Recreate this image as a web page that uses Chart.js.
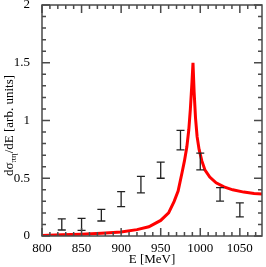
<!DOCTYPE html>
<html>
<head>
<meta charset="utf-8">
<script src="https://cdn.jsdelivr.net/npm/chart.js@4"></script>
<style>
  html, body { margin: 0; padding: 0; background: #fff; }
  #wrap { width: 266px; height: 267px; }
</style>
</head>
<body>
<div id="wrap"><canvas id="chart"></canvas></div>
<script>
const energies = [825, 850, 875, 900, 925, 950, 975, 1000, 1025, 1050];
const xsValues = [0.10, 0.10, 0.18, 0.32, 0.445, 0.57, 0.83, 0.645, 0.36, 0.226];
const xsErrors = [0.048, 0.052, 0.05, 0.065, 0.072, 0.07, 0.085, 0.072, 0.058, 0.06];

const curveE = [800, 825, 850, 875, 900, 920, 935, 950, 960, 967, 972, 977, 980, 983, 985.5, 987.5, 989.5, 990.8,
  992.2, 994, 996, 998.5, 1002, 1006, 1012, 1020, 1030, 1041, 1055, 1068, 1080];
const curveY = [0.005, 0.01, 0.016, 0.024, 0.034, 0.055, 0.08, 0.135, 0.2, 0.3, 0.39, 0.55, 0.65, 0.77, 0.92, 1.1, 1.33, 1.5,
  1.25, 1.02, 0.86, 0.75, 0.65, 0.57, 0.51, 0.46, 0.425, 0.4, 0.38, 0.368, 0.362];

const xMajor = [800, 850, 900, 950, 1000, 1050];
const yMajor = [0, 0.5, 1, 1.5, 2];

const SERIF = '"Liberation Serif", "DejaVu Serif", serif';
const FRAME = '#4a4a4a';

// frame with inward ticks on all four sides, plus error bars and the y title
const framePlugin = {
  id: 'frame',
  afterDatasetsDraw(chart) {
    const { ctx, chartArea: a, scales: { x, y } } = chart;
    ctx.save();

    // error bars
    ctx.strokeStyle = '#222';
    ctx.lineWidth = 1.3;
    energies.forEach((e, i) => {
      const px = x.getPixelForValue(e);
      const top = y.getPixelForValue(xsValues[i] + xsErrors[i]);
      const bot = y.getPixelForValue(xsValues[i] - xsErrors[i]);
      ctx.beginPath();
      ctx.moveTo(px, top); ctx.lineTo(px, bot);
      ctx.moveTo(px - 4, top); ctx.lineTo(px + 4, top);
      ctx.moveTo(px - 4, bot); ctx.lineTo(px + 4, bot);
      ctx.stroke();
    });

    ctx.strokeStyle = FRAME;
    ctx.lineWidth = 1.5;
    ctx.beginPath();
    for (let v = 800; v <= x.max; v += 10) {
      const px = x.getPixelForValue(v);
      const len = v % 50 === 0 ? 8 : 4;
      ctx.moveTo(px, a.bottom); ctx.lineTo(px, a.bottom - len);
      ctx.moveTo(px, a.top); ctx.lineTo(px, a.top + len);
    }
    for (let k = 0; k <= 20; k++) {
      const py = y.getPixelForValue(k / 10);
      const len = k % 5 === 0 ? 8 : 4;
      ctx.moveTo(a.left, py); ctx.lineTo(a.left + len, py);
      ctx.moveTo(a.right, py); ctx.lineTo(a.right - len, py);
    }
    ctx.stroke();
    ctx.strokeRect(a.left, a.top, a.right - a.left, a.bottom - a.top);

    // y title with subscript
    ctx.fillStyle = '#000';
    ctx.translate(13, (a.top + a.bottom) / 2 + 5);
    ctx.rotate(-Math.PI / 2);
    ctx.textBaseline = 'alphabetic';
    const parts = [['dσ', 13, 0], ['πη', 9, 3], ['/dE [arb. units]', 13, 0]];
    let total = 0;
    parts.forEach(([t, s]) => { ctx.font = s + 'px ' + SERIF; total += ctx.measureText(t).width; });
    let cx = -total / 2;
    parts.forEach(([t, s, dy]) => {
      ctx.font = s + 'px ' + SERIF;
      ctx.fillText(t, cx, dy);
      cx += ctx.measureText(t).width;
    });
    ctx.restore();
  },
};

new Chart(document.getElementById('chart'), {
  type: 'scatter',
  data: {
    datasets: [
      {
        label: 'model',
        data: curveE.map((e, i) => ({ x: e, y: curveY[i] })),
        showLine: true,
        borderColor: '#ff0000',
        borderWidth: 3,
        pointRadius: 0,
        tension: 0,
      },
      {
        label: 'data',
        data: energies.map((e, i) => ({ x: e, y: xsValues[i] })),
        pointRadius: 0,
      },
    ],
  },
  plugins: [framePlugin],
  options: {
    responsive: true,
    maintainAspectRatio: false,
    animation: false,
    clip: true,
    layout: { padding: { top: 5, right: 4, left: 0, bottom: 0 } },
    plugins: { legend: { display: false }, tooltip: { enabled: false } },
    scales: {
      x: {
        type: 'linear',
        min: 800,
        max: 1078,
        grid: { display: false },
        border: { display: false },
        afterBuildTicks: (s) => { s.ticks = xMajor.map((v) => ({ value: v })); },
        afterFit: (s) => { s.height = 31; s.paddingLeft = 0; s.paddingRight = 0; },
        ticks: {
          color: '#000', font: { family: SERIF, size: 13 }, padding: -3, maxRotation: 0,
          callback: (v) => String(v),
        },
        title: { display: true, text: 'E [MeV]', color: '#000', font: { family: SERIF, size: 13 }, padding: { top: 0, bottom: 0 } },
      },
      y: {
        min: 0,
        max: 2,
        grid: { display: false },
        border: { display: false },
        afterBuildTicks: (s) => { s.ticks = yMajor.map((v) => ({ value: v })); },
        afterFit: (s) => { s.width = 42; s.paddingTop = 0; s.paddingBottom = 0; },
        ticks: { color: '#000', font: { family: SERIF, size: 13 }, padding: 4, callback: (v) => String(v) },
      },
    },
  },
});
</script>
</body>
</html>
